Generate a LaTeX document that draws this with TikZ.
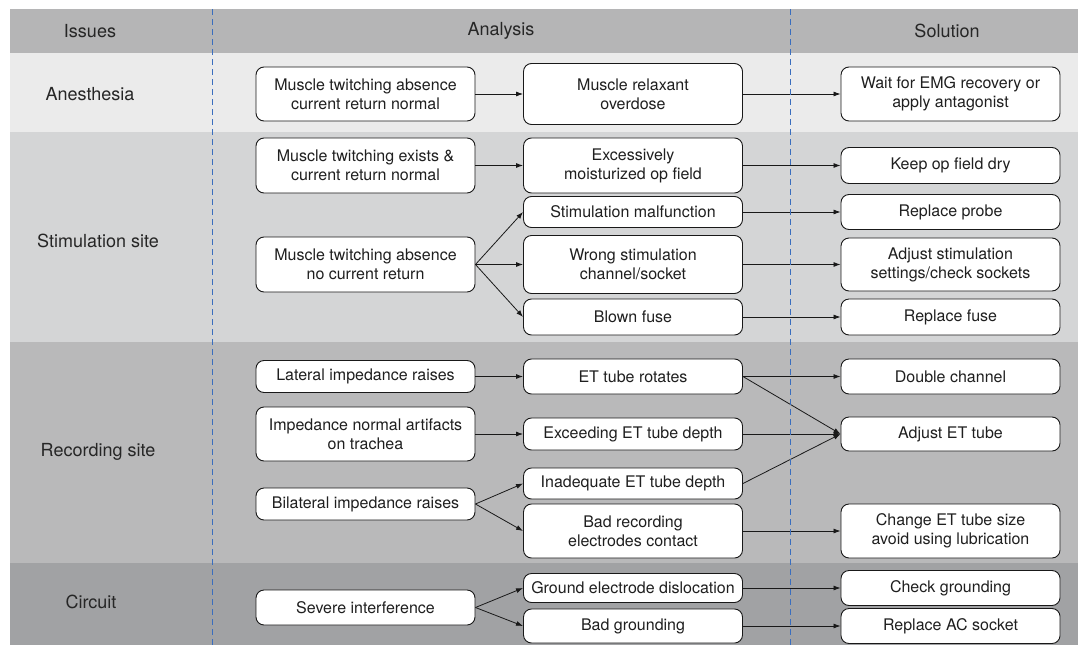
\documentclass[tikz,border=0pt]{standalone}
\usepackage{fontspec}
\setmainfont{TeX Gyre Heros}
\usetikzlibrary{arrows.meta,positioning}
\definecolor{hdrgray}{RGB}{181,181,182}
\definecolor{anegray}{RGB}{235,235,235}
\definecolor{stigray}{RGB}{212,213,214}
\definecolor{recgray}{RGB}{185,185,186}
\definecolor{cirgray}{RGB}{161,162,164}
\definecolor{lineblue}{RGB}{58,110,190}

\begin{document}
\begin{tikzpicture}[x=1pt, y=-1pt,
  box/.style={draw=black!90, fill=white, rounded corners=8pt, line width=0.9pt, align=center, minimum width=219pt, minimum height=33pt, inner xsep=4pt, inner ysep=2pt, font=\fontsize{16}{19}\selectfont, text=black!88},
  rowlab/.style={font=\fontsize{18}{21}\selectfont, text=black!85},
  arr/.style={-{Latex[length=7pt,width=5pt]}, line width=0.8pt, black!90},
  divider/.style={lineblue, line width=0.9pt, dash pattern=on 6pt off 4pt}]
\useasboundingbox (0,0) rectangle (1078,645);
% bands
\fill[hdrgray] (10,9) rectangle (1078,53);
\fill[anegray] (10,53) rectangle (1078,132);
\fill[stigray] (10,132) rectangle (1078,342);
\fill[recgray] (10,342) rectangle (1078,563);
\fill[cirgray] (10,563) rectangle (1078,645);
% headings
\node[rowlab] (iss) at (90,31) {Issues};
\node[rowlab] (ana) at (501,31) {Analysis};
\node[rowlab] (sol) at (947,31) {Solution};
\node[rowlab] (ane) at (90,94) {Anesthesia};
\node[rowlab] (sti) at (98,241) {Stimulation site};
\node[rowlab] (rec) at (98,452) {Recording site};
\node[rowlab] (cir) at (91,602) {Circuit};
% anesthesia
\node[box, minimum height=54pt] (an1) at (365.5,94) {Muscle twitching absence\\current return normal};
\node[box, minimum height=61pt] (an2) at (633,94) {Muscle relaxant\\overdose};
\node[box, minimum height=54pt] (an3) at (950.5,94) {Wait for EMG recovery or\\apply antagonist};
% stimulation site
\node[box, minimum height=55pt] (st1) at (365.5,165.5) {Muscle twitching exists \&\\current return normal};
\node[box, minimum height=55pt] (st2) at (633,165.5) {Excessively\\moisturized op field};
\node[box, minimum height=36pt] (st3) at (950.5,165.5) {Keep op field dry};
\node[box, minimum height=31pt] (st4) at (633,212) {Stimulation malfunction};
\node[box, minimum height=35pt] (st5) at (950.5,212) {Replace probe};
\node[box, minimum height=55pt] (st6) at (365.5,264.5) {Muscle twitching absence\\no current return};
\node[box, minimum height=58pt] (st7) at (633,264.5) {Wrong stimulation\\channel/socket};
\node[box, minimum height=53pt] (st8) at (950.5,264.5) {Adjust stimulation\\settings/check sockets};
\node[box, minimum height=36pt] (st9) at (633,317) {Blown fuse};
\node[box, minimum height=36pt] (st10) at (950.5,317) {Replace fuse};
% recording site
\node[box, minimum height=32pt] (re1) at (365.5,376.5) {Lateral impedance raises};
\node[box, minimum height=35pt] (re2) at (633,376.5) {ET tube rotates};
\node[box, minimum height=35pt] (re3) at (950.5,376.5) {Double channel};
\node[box, minimum height=54pt] (re4) at (365.5,434) {Impedance normal artifacts\\on trachea};
\node[box, minimum height=32pt] (re5) at (633,434) {Exceeding ET tube depth};
\node[box, minimum height=34pt] (re6) at (950.5,434) {Adjust ET tube};
\node[box, minimum height=32pt] (re7) at (365.5,504) {Bilateral impedance raises};
\node[box, minimum height=31pt] (re8) at (633,483.5) {Inadequate ET tube depth};
\node[box, minimum height=54pt] (re9) at (633,531) {Bad recording\\electrodes contact};
\node[box, minimum height=54pt] (re10) at (950.5,531) {Change ET tube size\\avoid using lubrication};
% circuit
\node[box, minimum height=35pt] (ci1) at (365.5,607.5) {Severe interference};
\node[box, minimum height=29pt] (ci2) at (633,588) {Ground electrode dislocation};
\node[box, minimum height=34pt] (ci3) at (633,626) {Bad grounding};
\node[box, minimum height=35pt] (ci4) at (950.5,588) {Check grounding};
\node[box, minimum height=35pt] (ci5) at (950.5,626) {Replace AC socket};
% arrows
\draw[arr] (an1) -- (an2); \draw[arr] (an2) -- (an3);
\draw[arr] (st1) -- (st2); \draw[arr] (st2) -- (st3);
\draw[arr] (st6.east) -- (st4.west); \draw[arr] (st6) -- (st7); \draw[arr] (st6.east) -- (st9.west);
\draw[arr] (st4) -- (st5); \draw[arr] (st7) -- (st8); \draw[arr] (st9) -- (st10);
\draw[arr] (re1) -- (re2); \draw[arr] (re2) -- (re3); \draw[arr] (re2.east) -- (re6.west);
\draw[arr] (re4) -- (re5); \draw[arr] (re5) -- (re6); \draw[arr] (re8.east) -- (re6.west);
\draw[arr] (re7.east) -- (re8.west); \draw[arr] (re7.east) -- (re9.west); \draw[arr] (re9) -- (re10);
\draw[arr] (ci1.east) -- (ci2.west); \draw[arr] (ci1.east) -- (ci3.west);
\draw[arr] (ci2) -- (ci4); \draw[arr] (ci3) -- (ci5);
% column dividers
\draw[divider] (212,9) -- (212,645);
\draw[divider] (790,9) -- (790,645);
\end{tikzpicture}
\end{document}
